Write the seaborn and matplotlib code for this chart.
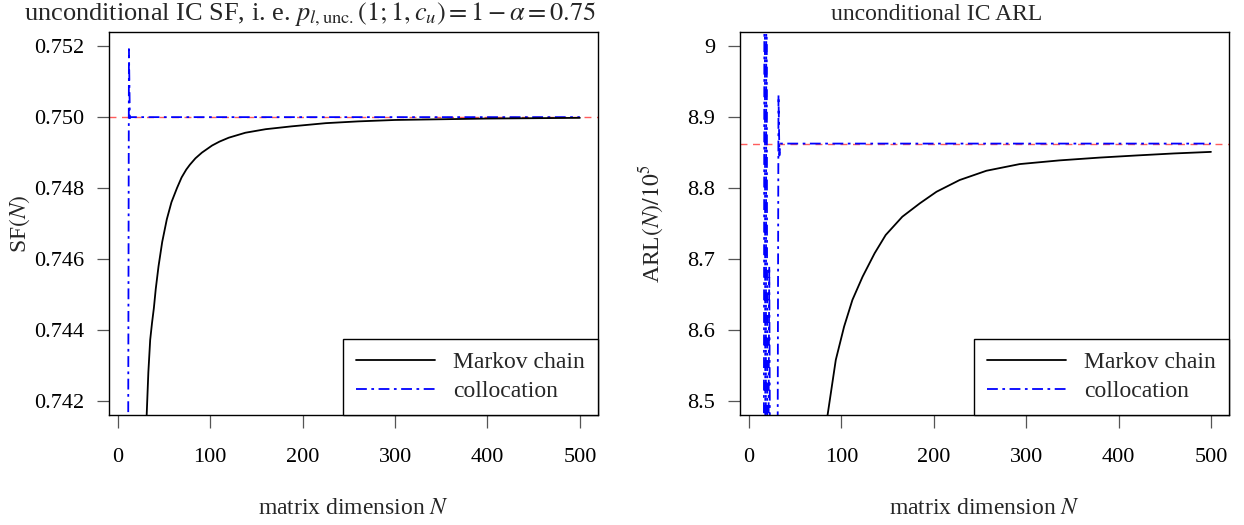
import matplotlib
matplotlib.use("Agg")
import matplotlib.pyplot as plt
import numpy as np
import pandas as pd
import seaborn as sns

sns.set_theme(style="ticks")
plt.rcParams["font.family"] = ["Liberation Serif", "DejaVu Serif"]
plt.rcParams["mathtext.fontset"] = "stix"

# ---- unconditional in-control survival function SF(N) ----
sf_mc_n = [30, 33, 35, 37, 39, 41, 44, 48, 53, 58, 64, 69, 74, 78, 84, 91,
           102, 110, 120, 138, 160, 188, 225, 260, 300, 350, 400, 450, 500]
sf_mc = [0.7408, 0.7428, 0.74372, 0.7442, 0.74462, 0.74515, 0.74579, 0.74648,
         0.74712, 0.74760, 0.74800, 0.74830, 0.74852, 0.74866, 0.74884,
         0.74900, 0.74920, 0.74931, 0.74942, 0.74956, 0.74966, 0.74974,
         0.74983, 0.74988, 0.74992, 0.74994, 0.74996, 0.74997, 0.74998]
sf_col_n = [11, 12, 13, 14, 50, 100, 200, 300, 400, 500]
sf_col = [0.7385, 0.75192, 0.74997, 0.75, 0.75, 0.75, 0.75, 0.75, 0.75, 0.75]
sf_target = 0.75

# ---- unconditional in-control ARL / 10^5 ----
arl_mc_n = [80, 85, 94, 103, 112, 123, 136, 148, 166, 185, 203, 228, 257,
            293, 336, 380, 420, 460, 500]
arl_mc = [8.43, 8.479, 8.5577, 8.6047, 8.6423, 8.675, 8.708, 8.7338, 8.7596,
          8.7785, 8.7948, 8.8113, 8.8244, 8.8338, 8.839, 8.843, 8.846,
          8.8488, 8.851]
arl_col_n = [16, 17, 18, 19, 20, 21, 22, 23, 31, 32, 33, 34, 100, 200, 300,
             400, 500]
arl_col = [8.20, 9.40, 8.10, 9.30, 8.30, 8.40, 8.69, 8.35, 8.40, 8.931, 8.846,
           8.8627, 8.8627, 8.8627, 8.8627, 8.8627, 8.8627]
arl_target = 8.8627

x_ticks = [0, 100, 200, 300, 400, 500]
sf_ticks = [0.742, 0.744, 0.746, 0.748, 0.750, 0.752]
sf_tick_labels = ["0.742", "0.744", "0.746", "0.748", "0.750", "0.752"]
arl_ticks = [8.5, 8.6, 8.7, 8.8, 8.9, 9.0]
arl_tick_labels = ["8.5", "8.6", "8.7", "8.8", "8.9", "9"]

FS = 17
TICK_FS = 16
SERIF = ["Liberation Serif", "DejaVu Serif"]
dashdot = (0, (6, 2.5, 1.5, 2.5))

fig = plt.figure(figsize=(12.44, 5.25), dpi=100)
ax1 = fig.add_axes([0.0876, 0.2095, 0.3931, 0.7295])
ax2 = fig.add_axes([0.5949, 0.2095, 0.3931, 0.7295])


def draw_panel(ax, mc_n, mc, col_n, col, target, ylim, yticks, ylabels):
    ax.axhline(target, color="#ff4040", lw=1.0, ls=(0, (5, 4)), alpha=0.85,
               zorder=1)
    sns.lineplot(x=mc_n, y=mc, ax=ax, color="black", lw=1.3,
                 label="Markov chain", sort=False, estimator=None, zorder=3)
    sns.lineplot(x=col_n, y=col, ax=ax, color="blue", lw=1.3, ls=dashdot,
                 label="collocation", sort=False, estimator=None, zorder=2)
    ax.set_xlim(-9.6, 519.6)
    ax.set_ylim(*ylim)
    ax.set_xticks(x_ticks)
    ax.set_xticklabels([str(t) for t in x_ticks], family=SERIF)
    ax.set_yticks(yticks)
    ax.set_yticklabels(ylabels, family=SERIF)
    for s in ax.spines.values():
        s.set_visible(True)
        s.set_color("black")
        s.set_linewidth(1.0)
    ax.tick_params(axis="both", direction="out", length=9, width=0.9,
                   color="#555555", labelsize=TICK_FS, labelcolor="black")
    ax.tick_params(axis="x", pad=14.5)
    ax.tick_params(axis="y", pad=9)
    ax.set_xlabel("matrix dimension $N$", fontsize=FS, va="center")
    ax.xaxis.set_label_coords(0.5, -0.245)
    leg = ax.legend(loc="lower right", borderaxespad=0, fancybox=False,
                    frameon=True, framealpha=1, edgecolor="black",
                    prop={"family": SERIF, "size": FS}, handlelength=3.35,
                    handletextpad=0.76, borderpad=0.55, labelspacing=0.3)
    leg.get_frame().set_linewidth(1.0)


draw_panel(ax1, sf_mc_n, sf_mc, sf_col_n, sf_col, sf_target,
           (0.7416, 0.7524), sf_ticks, sf_tick_labels)
draw_panel(ax2, arl_mc_n, arl_mc, arl_col_n, arl_col, arl_target,
           (8.48, 9.02), arl_ticks, arl_tick_labels)

ax1.set_ylabel("SF$(N)$", fontsize=FS, va="center")
ax1.yaxis.set_label_coords(-0.182, 0.5)
ax2.set_ylabel("ARL$(N)/10^5$", fontsize=FS, va="center")
ax2.yaxis.set_label_coords(-0.181, 0.5)

fig.text(0.249, 0.973,
         r"unconditional IC SF, i. e. $p_{l,\mathrm{unc.}}(1;1,c_u)=1-\alpha=0.75$",
         ha="center", va="center", fontsize=19)
fig.text(0.753, 0.973, "unconditional IC ARL", ha="center", va="center",
         fontsize=17)

fig.savefig("out.png", dpi=100, facecolor="white")
